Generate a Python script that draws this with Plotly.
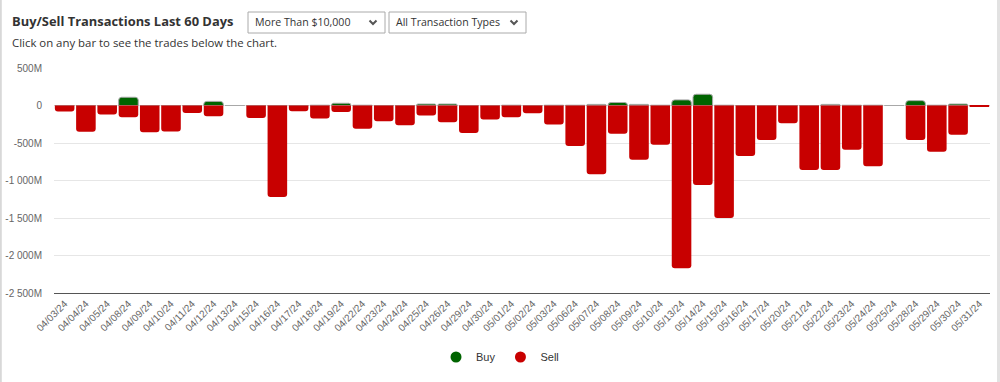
import plotly.graph_objects as go

dates = ["04/03/24", "04/04/24", "04/05/24", "04/08/24", "04/09/24", "04/10/24", "04/11/24",
         "04/12/24", "04/13/24", "04/15/24", "04/16/24", "04/17/24", "04/18/24", "04/19/24",
         "04/22/24", "04/23/24", "04/24/24", "04/25/24", "04/26/24", "04/29/24", "04/30/24",
         "05/01/24", "05/02/24", "05/03/24", "05/06/24", "05/07/24", "05/08/24", "05/09/24",
         "05/10/24", "05/13/24", "05/14/24", "05/15/24", "05/16/24", "05/17/24", "05/20/24",
         "05/21/24", "05/22/24", "05/23/24", "05/24/24", "05/25/24", "05/28/24", "05/29/24",
         "05/30/24", "05/31/24"]

# values in millions
buy = [0, 0, 0, 110, 0, 0, 0,
       55, 0, 0, 0, 0, 4, 30,
       4, 0, 0, 20, 20, 0, 0,
       4, 0, 4, 4, 15, 40, 15,
       4, 75, 150, 4, 0, 0, 0,
       0, 15, 4, 4, 0, 65, 4,
       20, 0]

sell = [-80, -350, -120, -155, -355, -345, -100,
        -142, 0, -165, -1220, -76, -173, -85,
        -310, -210, -262, -133, -222, -368, -186,
        -155, -102, -253, -541, -915, -378, -723,
        -524, -2170, -1060, -1500, -674, -461, -235,
        -860, -860, -590, -810, 0, -461, -617,
        -391, -10]

y_ticks = [500, 0, -500, -1000, -1500, -2000, -2500]
y_tick_text = ["500M", "0", "-500M", "-1 000M", "-1 500M", "-2 000M", "-2 500M"]

GREEN = "#006400"
RED = "#c80000"

W, H = 1000, 382
L, R, T, B = 54, 990, 68, 293


def px(x):
    return (x - L) / (R - L)


def py(y):
    return (B - y) / (B - T)


fig = go.Figure()
fig.add_trace(go.Bar(x=dates, y=buy, name="Buy", marker=dict(color=GREEN, line=dict(color="#a8a8a8", width=1)),
                     showlegend=False))
fig.add_trace(go.Bar(x=dates, y=sell, name="Sell", marker=dict(color=RED, line=dict(width=0)),
                     showlegend=False))
# legend entries with round symbols
fig.add_trace(go.Scatter(x=[None], y=[None], mode="markers", name="Buy",
                         marker=dict(color=GREEN, size=11, symbol="circle")))
fig.add_trace(go.Scatter(x=[None], y=[None], mode="markers", name="Sell",
                         marker=dict(color=RED, size=11, symbol="circle")))

shapes = []
# container borders
shapes.append(dict(type="line", xref="paper", yref="paper", x0=px(0.8), x1=px(0.8), y0=py(0), y1=py(H),
                   line=dict(color="#d8d8d8", width=2)))
shapes.append(dict(type="rect", xref="paper", yref="paper", x0=px(997), x1=px(1000), y0=py(0), y1=py(H),
                   line=dict(width=0), fillcolor="#e2e2e2"))
# dropdown boxes
boxes = [(248, 385, "More Than $10,000"), (389, 526, "All Transaction Types")]
annotations = []
for x0, x1, label in boxes:
    shapes.append(dict(type="rect", xref="paper", yref="paper", x0=px(x0), x1=px(x1), y0=py(12), y1=py(33),
                       line=dict(color="#aaaaaa", width=1), fillcolor="white"))
    cx = x1 - 12
    path = "M {} {} L {} {} L {} {}".format(px(cx - 3.5), py(20.5), px(cx), py(24), px(cx + 3.5), py(20.5))
    shapes.append(dict(type="path", xref="paper", yref="paper", path=path,
                       line=dict(color="#555555", width=2)))
    annotations.append(dict(text=label, xref="paper", yref="paper", x=px(x0 + 5), y=py(22.5),
                            xanchor="left", yanchor="middle", showarrow=False,
                            font=dict(family="Open Sans", size=10.6, color="#333333")))

annotations.append(dict(text="<b>Buy/Sell Transactions Last 60 Days</b>", xref="paper", yref="paper",
                        x=px(10), y=py(21.5), xanchor="left", yanchor="middle", showarrow=False,
                        font=dict(family="Open Sans", size=12.9, color="#333333")))
annotations.append(dict(text="Click on any bar to see the trades below the chart.", xref="paper", yref="paper",
                        x=px(10), y=py(43), xanchor="left", yanchor="middle", showarrow=False,
                        font=dict(family="Open Sans", size=11.4, color="#333333")))

fig.update_layout(
    width=W, height=H,
    margin=dict(l=L, r=W - R, t=T, b=H - B, pad=0, autoexpand=False),
    barmode="relative",
    bargap=0.08,
    barcornerradius=3,
    plot_bgcolor="white",
    paper_bgcolor="white",
    font=dict(family="Liberation Sans, Arial", color="#666666"),
    shapes=shapes,
    annotations=annotations,
    legend=dict(orientation="h", x=px(500), xanchor="center", y=py(357), yanchor="middle",
                font=dict(family="Liberation Sans, Arial", size=11, color="#333333"),
                itemwidth=30, tracegroupgap=0),
    hovermode="x",
)
fig.update_xaxes(type="category", tickangle=-45, tickfont=dict(size=10, color="#666666"),
                 showline=True, linecolor="#555555", linewidth=1, showgrid=False, ticks="",
                 fixedrange=True, automargin=False)
fig.update_yaxes(range=[-2500, 500], tickvals=y_ticks, ticktext=y_tick_text,
                 tickfont=dict(size=10, color="#666666"), showgrid=True, gridcolor="#e6e6e6",
                 zeroline=False, ticks="", ticklabelstandoff=11, fixedrange=True, automargin=False)

fig.write_html("out.html", post_script="document.body.style.margin='0px';",
               config={"displayModeBar": False})
